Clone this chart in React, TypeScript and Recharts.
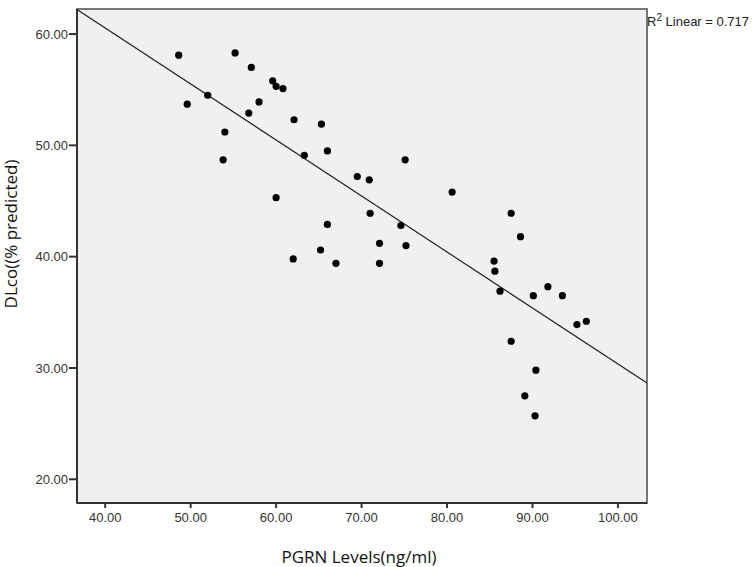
import {
  ScatterChart,
  Scatter,
  XAxis,
  YAxis,
  ReferenceArea,
  ReferenceLine,
  Label,
} from "recharts";

const pgrnLevels = [
  48.6, 49.6, 52.0, 53.8, 54.0, 55.2, 57.1, 56.8, 58.0, 59.6, 60.0, 60.8,
  60.0, 62.1, 62.0, 63.3, 65.3, 66.0, 65.2, 66.0, 67.0, 69.5, 70.9, 71.0,
  72.1, 72.1, 74.6, 75.1, 75.2, 80.6, 85.5, 85.6, 86.2, 87.5, 88.6, 87.5,
  90.1, 91.8, 93.5, 95.2, 96.3, 90.4, 89.1, 90.3,
];
const dlcoPredicted = [
  58.1, 53.7, 54.5, 48.7, 51.2, 58.3, 57.0, 52.9, 53.9, 55.8, 55.3, 55.1,
  45.3, 52.3, 39.8, 49.1, 51.9, 49.5, 40.6, 42.9, 39.4, 47.2, 46.9, 43.9,
  41.2, 39.4, 42.8, 48.7, 41.0, 45.8, 39.6, 38.7, 36.9, 43.9, 41.8, 32.4,
  36.5, 37.3, 36.5, 33.9, 34.2, 29.8, 27.5, 25.7,
];
const xTicks = [40, 50, 60, 70, 80, 90, 100];
const yTicks = [20, 30, 40, 50, 60];
const xDomain = [36.7, 103.4];
const yDomain = [17.87, 62.25];
const fitSlope = -0.503;
const fitIntercept = 80.66;
const rSquared = "0.717";

const points = pgrnLevels.map((x, i) => ({ x, y: dlcoPredicted[i] }));
const fitAt = (x: number) => fitIntercept + fitSlope * x;

const Dot = (props: any) => (
  <circle cx={props.cx} cy={props.cy} r={3.6} fill="#000" />
);

const tickStyle = { fill: "#333", fontSize: 13, fontFamily: "Liberation Sans, Arial" };
const titleFont = { fill: "#111", fontSize: 17, fontFamily: "Open Sans, Noto Sans" };

export default function App() {
  return (
    <div style={{ position: "absolute", left: 0, top: 0, width: 752, height: 567, background: "#fff" }}>
      <ScatterChart
        width={752}
        height={567}
        margin={{ top: 9, right: 105, bottom: 0, left: 0 }}
      >
        <XAxis
          type="number"
          dataKey="x"
          domain={xDomain}
          ticks={xTicks}
          allowDataOverflow
          tickFormatter={(v: number) => v.toFixed(2)}
          tick={tickStyle}
          tickSize={5}
          tickMargin={5}
          stroke="#333"
          strokeWidth={2}
          height={64}
        >
          <Label
            content={() => (
              <text x={359} y={563} textAnchor="middle" style={titleFont}>
                PGRN Levels(ng/ml)
              </text>
            )}
          />
        </XAxis>
        <YAxis
          type="number"
          dataKey="y"
          domain={yDomain}
          ticks={yTicks}
          allowDataOverflow
          tickFormatter={(v: number) => v.toFixed(2)}
          tick={tickStyle}
          tickSize={8}
          tickMargin={1}
          stroke="#333"
          strokeWidth={2}
          width={77}
        >
          <Label
            content={() => (
              <text
                x={17}
                y={234}
                textAnchor="middle"
                transform="rotate(-90 17 234)"
                style={titleFont}
              >
                DLco((% predicted)
              </text>
            )}
          />
        </YAxis>
        <ReferenceArea
          x1={xDomain[0]}
          x2={xDomain[1]}
          y1={yDomain[0]}
          y2={yDomain[1]}
          fill="#f0f0f0"
          fillOpacity={1}
          stroke="#777"
          strokeWidth={2}
        />
        <ReferenceLine
          segment={[
            { x: xDomain[0], y: fitAt(xDomain[0]) },
            { x: xDomain[1], y: fitAt(xDomain[1]) },
          ]}
          stroke="#222"
          strokeWidth={1.2}
          ifOverflow="hidden"
        />
        <Scatter data={points} shape={Dot} isAnimationActive={false} />
      </ScatterChart>
      <div
        style={{
          position: "absolute",
          left: 647,
          top: 12,
          fontSize: 13,
          fontFamily: "Liberation Sans, Arial",
          color: "#222",
          whiteSpace: "nowrap",
        }}
      >
        R<sup style={{ fontSize: 10 }}>2</sup> Linear = {rSquared}
      </div>
    </div>
  );
}
